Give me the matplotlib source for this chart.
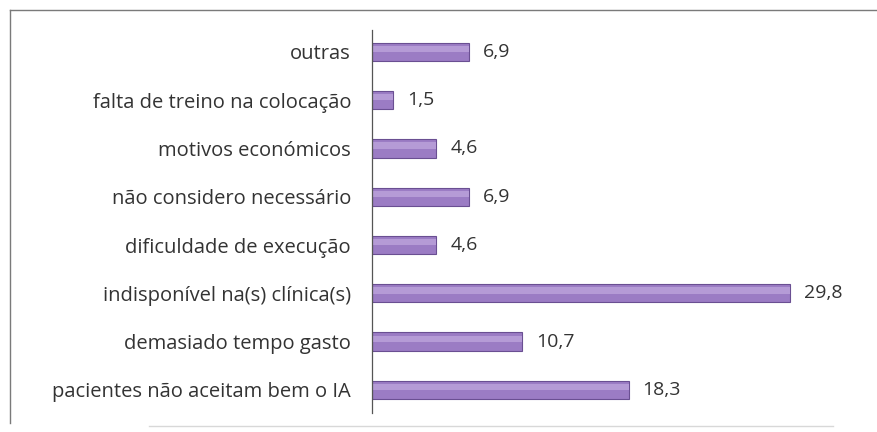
import matplotlib.pyplot as plt
from matplotlib.lines import Line2D

# data (bottom to top)
categories = [
    "pacientes não aceitam bem o IA",
    "demasiado tempo gasto",
    "indisponível na(s) clínica(s)",
    "dificuldade de execução",
    "não considero necessário",
    "motivos económicos",
    "falta de treino na colocação",
    "outras",
]
values = [18.3, 10.7, 29.8, 4.6, 6.9, 4.6, 1.5, 6.9]
value_labels = ["18,3", "10,7", "29,8", "4,6", "6,9", "4,6", "1,5", "6,9"]

plt.rcParams['font.family'] = ['Open Sans', 'DejaVu Sans']

fig = plt.figure(figsize=(8.77, 4.32), dpi=100)
ax = fig.add_axes([0.424, 0.044, 0.56, 0.886])

pos = list(range(len(categories)))
ax.barh(pos, values, height=0.38, color='#9b7cc4', edgecolor='#6a4f92', linewidth=0.8)
# soft highlight on the upper part of each bar
ax.barh([p + 0.06 for p in pos], values, height=0.13, color='#b59bd6', linewidth=0)

for p, v, lab in zip(pos, values, value_labels):
    ax.text(v + 1.0, p, lab, va='center', ha='left', fontsize=14, color='#333333')

ax.set_yticks(pos)
ax.set_yticklabels(categories, fontsize=14.5, color='#333333')
ax.tick_params(axis='y', length=0, pad=15)
ax.set_xticks([])
ax.set_xlim(0, 35)
ax.set_ylim(-0.48, 7.45)
for s in ['top', 'right', 'bottom']:
    ax.spines[s].set_visible(False)
ax.spines['left'].set_color('#555555')
ax.spines['left'].set_linewidth(0.9)

# chart border (scan: left and top visible, faint bottom)
fig.add_artist(Line2D([0.011, 0.011], [0.02, 0.977], color='#7a7a7a', linewidth=1.0))
fig.add_artist(Line2D([0.011, 1.0], [0.977, 0.977], color='#7a7a7a', linewidth=1.0))
fig.add_artist(Line2D([0.17, 0.95], [0.015, 0.015], color='#d8d8d8', linewidth=1.0))

fig.savefig("out.png", dpi=100, facecolor='white')
